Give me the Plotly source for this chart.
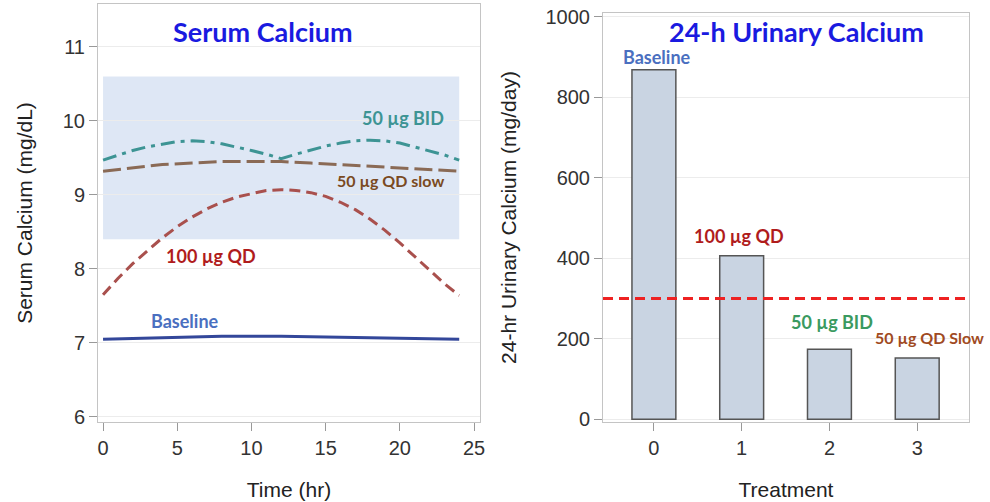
import plotly.graph_objects as go

# ---- Data: serum calcium (mg/dL) over time (hr) ----
t_100qd = [0, 1, 2, 3, 4, 5, 6, 7, 8, 9, 10, 11, 12, 13, 14, 15, 16, 17, 18, 19, 20, 21, 22, 23, 24]
ca_100qd = [7.65, 7.87, 8.07, 8.25, 8.42, 8.57, 8.70, 8.81, 8.90, 8.97, 9.02, 9.06, 9.07, 9.06, 9.03,
            8.98, 8.90, 8.80, 8.67, 8.52, 8.35, 8.17, 7.98, 7.80, 7.64]
t_bid = [0, 1, 2, 3, 4, 5, 6, 7, 8, 9, 10, 11, 12, 13, 14, 15, 16, 17, 18, 19, 20, 21, 22, 23, 24]
ca_bid = [9.47, 9.54, 9.60, 9.65, 9.69, 9.72, 9.73, 9.72, 9.69, 9.65, 9.60, 9.55, 9.49, 9.55, 9.61,
          9.66, 9.70, 9.73, 9.74, 9.73, 9.70, 9.65, 9.60, 9.54, 9.47]
t_slow = [0, 2, 4, 6, 8, 10, 12, 14, 16, 18, 20, 22, 24]
ca_slow = [9.32, 9.37, 9.41, 9.43, 9.45, 9.45, 9.45, 9.43, 9.41, 9.39, 9.37, 9.35, 9.32]
t_base = [0, 4, 8, 12, 16, 20, 24]
ca_base = [7.05, 7.07, 7.09, 7.09, 7.08, 7.06, 7.05]
normal_low, normal_high = 8.4, 10.6
normal_t0, normal_t1 = 0, 24

# ---- Data: 24-h urinary calcium (mg/day) ----
treatments = [0, 1, 2, 3]
urinary_ca = [868, 406, 174, 152]
urinary_limit = 300

fig = go.Figure()

# left panel lines
fig.add_trace(go.Scatter(x=t_bid, y=ca_bid, mode="lines", line=dict(color="#3d9494", width=3, dash="14px,6px,4px,6px"),
                         xaxis="x", yaxis="y", showlegend=False, cliponaxis=False))
fig.add_trace(go.Scatter(x=t_slow, y=ca_slow, mode="lines", line=dict(color="#8a6a55", width=3, dash="18px,6px"),
                         xaxis="x", yaxis="y", showlegend=False, cliponaxis=False))
fig.add_trace(go.Scatter(x=t_100qd, y=ca_100qd, mode="lines", line=dict(color="#a9504d", width=3, dash="11px,6px"),
                         xaxis="x", yaxis="y", showlegend=False, cliponaxis=False))
fig.add_trace(go.Scatter(x=t_base, y=ca_base, mode="lines", line=dict(color="#33479a", width=3),
                         xaxis="x", yaxis="y", showlegend=False, cliponaxis=False))

# right panel bars
fig.add_trace(go.Bar(x=treatments, y=urinary_ca, width=0.5, marker=dict(color="#c9d4e2", line=dict(color="#555555", width=1.5)),
                     xaxis="x2", yaxis="y2", showlegend=False))

shapes = [
    dict(type="rect", xref="x", yref="y", x0=normal_t0, x1=normal_t1, y0=normal_low, y1=normal_high,
         fillcolor="rgba(205,218,240,0.65)", line=dict(width=0), layer="below"),
    dict(type="line", xref="x2 domain", yref="y2", x0=0, x1=1, y0=urinary_limit, y1=urinary_limit,
         line=dict(color="#ee2222", width=3, dash="10px,6px")),
]

lab_font = "Lato, 'Open Sans', sans-serif"
def lab(text, x, y, xref, yref, color, size=18):
    return dict(text="<b>" + text + "</b>", x=x, y=y, xref=xref, yref=yref, showarrow=False,
                xanchor="center", yanchor="middle",
                font=dict(family=lab_font, size=size, color=color))

annotations = [
    lab("Serum Calcium", 263 / 990, 1 - 32 / 502, "paper", "paper", "#1a1ae0", 27),
    lab("24-h Urinary Calcium", 796 / 990, 1 - 32 / 502, "paper", "paper", "#1a1ae0", 27),
    lab("50 µg BID", 20.2, 10.04, "x", "y", "#3d9494"),
    lab("50 µg QD slow", 19.4, 9.19, "x", "y", "#7a4a22", 16),
    lab("100 µg QD", 7.3, 8.18, "x", "y", "#b01c1c"),
    lab("Baseline", 5.5, 7.29, "x", "y", "#4a6fc0"),
    lab("Baseline", 0.03, 900, "x2", "y2", "#4a6fc0"),
    lab("100 µg QD", 0.97, 455, "x2", "y2", "#b01c1c"),
    lab("50 µg BID", 2.03, 242, "x2", "y2", "#3a9a60"),
    lab("50 µg QD Slow", 3.14, 202, "x2", "y2", "#a04a22", 16),
]

title_font = dict(family="Liberation Sans, Arial", size=21, color="#222222")
axis_common = dict(showline=True, linecolor="#c4c4c4", linewidth=1, mirror=True, ticks="outside",
                   tickcolor="#999999", ticklen=8, tickfont=dict(family="Liberation Sans, Arial", size=20, color="#333333"),
                   zeroline=False, automargin=False)

fig.update_layout(
    width=990, height=502,
    margin=dict(l=0, r=0, t=0, b=0),
    paper_bgcolor="white", plot_bgcolor="white",
    shapes=shapes, annotations=annotations,
    xaxis=dict(domain=[98 / 990, 480 / 990], range=[-0.34, 25.4], tickvals=[0, 5, 10, 15, 20, 25],
               showgrid=False, anchor="y",
               title=dict(text="Time (hr)", font=title_font, standoff=24),
               **axis_common),
    yaxis=dict(domain=[1 - 422 / 502, 1 - 4 / 502], range=[5.93, 11.58], tickvals=[6, 7, 8, 9, 10, 11],
               showgrid=True, gridcolor="#ececec", anchor="x",
               title=dict(text="Serum Calcium (mg/dL)", font=title_font, standoff=24),
               **axis_common),
    xaxis2=dict(domain=[603 / 990, 969 / 990], range=[-0.58, 3.59], tickvals=[0, 1, 2, 3],
                showgrid=False, anchor="y2",
                title=dict(text="Treatment", font=title_font, standoff=24),
                **axis_common),
    yaxis2=dict(domain=[1 - 422 / 502, 1 - 13 / 502], range=[-7, 1009], tickvals=[0, 200, 400, 600, 800, 1000],
                showgrid=True, gridcolor="#ececec", anchor="x2",
                title=dict(text="24-hr Urinary Calcium (mg/day)", font=title_font, standoff=23),
                **axis_common),
)

fig.write_html("out.html", config={"displayModeBar": False},
               post_script="document.body.style.margin='0';document.body.style.padding='0';")
